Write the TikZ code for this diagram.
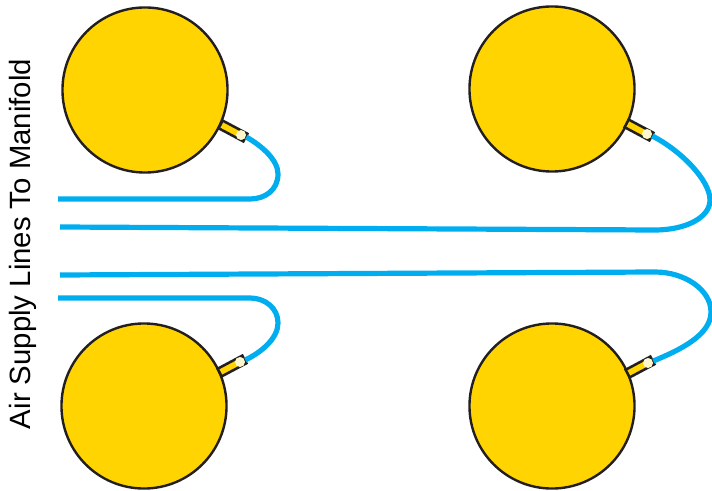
\documentclass[tikz,border=0pt]{standalone}
\usepackage{fontspec}
\setmainfont{Liberation Sans}
\definecolor{bag}{RGB}{255,212,0}
\definecolor{tube}{RGB}{0,174,239}
\definecolor{tip}{RGB}{255,247,204}
\definecolor{edge}{RGB}{35,31,32}
\tikzset{
  x=0.75pt,y=-0.75pt,
  bag/.style={circle,draw=edge,fill=bag,line width=1.8pt,minimum size=123.8pt,inner sep=0pt},
  fitting/.style={rectangle,draw=edge,fill=bag,line width=1.9pt,minimum width=21pt,minimum height=6.5pt,inner sep=0pt},
  tipcap/.style={circle,fill=tip,minimum size=7.5pt,inner sep=0pt},
  tubeline/.style={draw=tube,line width=3.9pt,line cap=butt},
}
\begin{document}
\begin{tikzpicture}
\useasboundingbox (0,0) rectangle (712,491);
\node[bag] (tl) at (145,90) {};
\node[bag] (tr) at (552,89) {};
\node[bag] (bl) at (144,406) {};
\node[bag] (br) at (552,406) {};
\node[fitting,rotate=-28] (ftl) at (233,131) {};
\node[fitting,rotate=-28] (ftr) at (639,130) {};
\node[fitting,rotate=28] (fbl) at (232,366) {};
\node[fitting,rotate=28] (fbr) at (640,367) {};
\node[tipcap] (ctl) at (241,135) {};
\node[tipcap] (ctr) at (647,134) {};
\node[tipcap] (cbl) at (240,362) {};
\node[tipcap] (cbr) at (648,363) {};
\coordinate (etl) at (58,199);
\coordinate (etr) at (60,227);
\coordinate (ebr) at (60,275);
\coordinate (ebl) at (58,298);
\draw[tubeline] (ctl.east) ++(0,2) .. controls (262,146) and (278,160) .. (278,174)
  .. controls (278,190) and (265,199) .. (250,199) -- (etl);
\draw[tubeline] (ctr.east) ++(0,2) .. controls (680,150) and (710,180) .. (710,200)
  .. controls (710,218) and (685,230) .. (655,230) -- (etr);
\draw[tubeline] (cbr.east) ++(0,-2) .. controls (680,350) and (711,335) .. (711,312)
  .. controls (711,290) and (685,272) .. (655,272) -- (ebr);
\draw[tubeline] (cbl.east) ++(0,-2) .. controls (262,352) and (278,338) .. (278,323)
  .. controls (278,308) and (265,298) .. (250,298) -- (ebl);
\node[rotate=90,font=\fontsize{22}{26}\selectfont,inner sep=0pt] (lbl) at (23,244) {Air Supply Lines To Manifold};
\end{tikzpicture}
\end{document}
